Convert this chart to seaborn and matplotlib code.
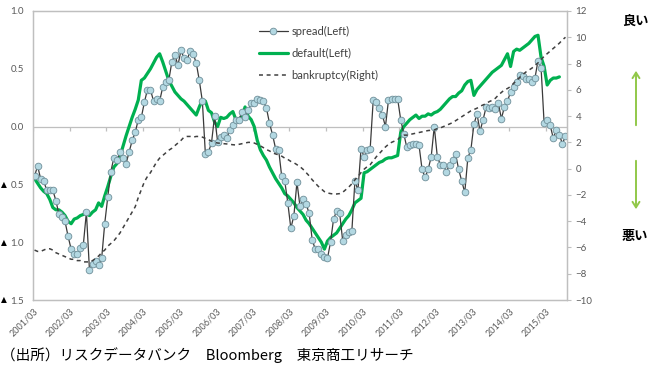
import numpy as np
import pandas as pd
import matplotlib
matplotlib.use("Agg")
import matplotlib.pyplot as plt
import seaborn as sns
from matplotlib.transforms import blended_transform_factory
from matplotlib.patches import FancyArrowPatch

# ---------------- data ----------------
months = [p.strftime("%Y/%m") for p in pd.period_range("2001-03", "2015-09", freq="M")]

spread = [
    -0.43, -0.34, -0.45, -0.47, -0.55, -0.55, -0.55, -0.64, -0.76, -0.78,
    -0.82, -0.95, -1.06, -1.10, -1.10, -1.05, -1.02, -0.74, -1.24, -1.19,
    -1.16, -1.20, -1.14, -0.84, -0.61, -0.39, -0.27, -0.29, -0.22, -0.27,
    -0.32, -0.22, -0.12, -0.05, 0.06, 0.08, 0.21, 0.32, 0.32, 0.22,
    0.24, 0.22, 0.34, 0.39, 0.40, 0.56, 0.62, 0.53, 0.66, 0.59,
    0.58, 0.65, 0.63, 0.55, 0.40, 0.22, -0.24, -0.22, -0.14, 0.09,
    -0.13, -0.09, -0.07, -0.10, -0.03, 0.01, 0.06, 0.06, 0.13, 0.08,
    0.14, 0.20, 0.20, 0.24, 0.23, 0.22, 0.16, 0.03, -0.07, -0.19,
    -0.20, -0.43, -0.47, -0.66, -0.88, -0.77, -0.48, -0.69, -0.63, -0.67,
    -0.75, -0.98, -1.06, -1.06, -1.10, -1.13, -1.14, -1.00, -0.80, -0.73,
    -0.75, -0.99, -0.94, -0.91, -0.90, -0.47, -0.55, -0.19, -0.26, -0.20,
    -0.19, 0.23, 0.21, 0.16, 0.10, 0.00, 0.23, 0.24, 0.24, 0.24,
    0.06, -0.06, -0.18, -0.16, -0.15, -0.15, -0.16, -0.37, -0.44, -0.37,
    -0.26, 0.00, -0.26, -0.33, -0.33, -0.39, -0.33, -0.29, -0.24, -0.37,
    -0.47, -0.57, -0.27, -0.20, 0.02, 0.11, -0.04, 0.06, 0.17, 0.16,
    0.17, 0.15, 0.20, 0.07, 0.17, 0.22, 0.30, 0.34, 0.39, 0.45,
    0.44, 0.41, 0.41, 0.39, 0.42, 0.57, 0.51, 0.03, 0.06, 0.01,
    -0.10, -0.03, -0.07, -0.15, -0.08,
]

default = [
    -0.45, -0.49, -0.53, -0.56, -0.58, -0.63, -0.70, -0.72, -0.72, -0.74,
    -0.77, -0.82, -0.84, -0.80, -0.79, -0.77, -0.76, -0.75, -0.77, -0.74,
    -0.72, -0.66, -0.69, -0.60, -0.52, -0.43, -0.35, -0.32, -0.26, -0.17,
    -0.08, 0.00, 0.08, 0.15, 0.23, 0.40, 0.42, 0.46, 0.50, 0.55,
    0.60, 0.63, 0.56, 0.48, 0.40, 0.35, 0.30, 0.27, 0.24, 0.22,
    0.19, 0.16, 0.13, 0.10, 0.17, 0.23, 0.22, 0.14, 0.12, 0.04,
    0.00, 0.08, 0.07, 0.08, 0.11, 0.13, 0.06, 0.06, 0.09, 0.17,
    0.09, 0.06, 0.00, -0.12, -0.20, -0.25, -0.29, -0.35, -0.40, -0.45,
    -0.49, -0.53, -0.58, -0.60, -0.63, -0.66, -0.70, -0.73, -0.76, -0.81,
    -0.84, -0.88, -0.92, -0.96, -1.00, -1.06, -0.99, -0.96, -0.94, -0.92,
    -0.88, -0.84, -0.80, -0.77, -0.72, -0.66, -0.64, -0.62, -0.40, -0.39,
    -0.37, -0.35, -0.33, -0.31, -0.30, -0.28, -0.27, -0.27, -0.26, -0.25,
    -0.05, 0.00, 0.03, 0.06, 0.08, 0.10, 0.07, 0.09, 0.09, 0.11,
    0.10, 0.12, 0.13, 0.15, 0.18, 0.21, 0.24, 0.26, 0.26, 0.29,
    0.31, 0.36, 0.39, 0.40, 0.27, 0.32, 0.35, 0.38, 0.41, 0.44,
    0.47, 0.49, 0.51, 0.53, 0.58, 0.63, 0.52, 0.65, 0.67, 0.66,
    0.68, 0.70, 0.72, 0.75, 0.78, 0.79, 0.60, 0.52, 0.36, 0.40,
    0.42, 0.42, 0.43, np.nan, np.nan,
]

bankruptcy = [
    -6.2, -6.3, -6.3, -6.2, -6.1, -6.1, -6.2, -6.4, -6.5, -6.6,
    -6.7, -6.8, -6.9, -6.9, -7.0, -7.0, -7.1, -7.1, -7.1, -7.0,
    -6.85, -6.65, -6.4, -6.2, -5.9, -5.7, -5.5, -5.2, -4.9, -4.5,
    -4.1, -3.7, -3.3, -2.9, -2.2, -1.6, -1.0, -0.6, -0.3, 0.1,
    0.5, 0.8, 1.0, 1.2, 1.4, 1.55, 1.75, 1.95, 2.15, 2.4,
    2.45, 2.45, 2.4, 2.45, 2.45, 2.4, 2.3, 2.2, 2.1, 2.0,
    1.95, 1.93, 1.9, 1.88, 1.85, 1.82, 1.8, 1.85, 1.9, 1.95,
    2.0, 2.0, 1.95, 1.85, 1.73, 1.6, 1.45, 1.35, 1.2, 1.12,
    1.05, 0.95, 0.8, 0.7, 0.55, 0.45, 0.3, 0.15, -0.05, -0.3,
    -0.55, -0.85, -1.1, -1.35, -1.55, -1.75, -1.85, -1.9, -1.93, -1.93,
    -1.9, -1.8, -1.6, -1.4, -1.15, -0.85, -0.6, -0.3, -0.05, 0.15,
    0.3, 0.6, 0.9, 1.15, 1.4, 1.65, 1.85, 2.0, 2.1, 2.2,
    2.45, 2.55, 2.55, 2.6, 2.65, 2.7, 2.75, 2.8, 2.85, 2.9,
    2.92, 2.95, 3.05, 3.1, 3.2, 3.3, 3.4, 3.5, 3.65, 3.8,
    3.95, 4.1, 4.25, 4.4, 4.5, 4.6, 4.75, 4.85, 4.95, 5.1,
    5.2, 5.35, 5.6, 5.8, 6.0, 6.1, 6.25, 6.5, 6.7, 6.95,
    7.15, 7.35, 7.5, 7.65, 7.85, 8.05, 8.3, 8.55, 8.75, 8.95,
    9.15, 9.35, 9.55, 9.8, 10.0,
]

left_ticks = [1.0, 0.5, 0.0, -0.5, -1.0, -1.5]
left_tick_labels = ["1.0", "0.5", "0.0", "0.5", "1.0", "1.5"]
right_ticks = [-10, -8, -6, -4, -2, 0, 2, 4, 6, 8, 10, 12]
series_labels = ["spread(Left)", "default(Left)", "bankruptcy(Right)"]
source_text = "（出所）リスクデータバンク　Bloomberg　東京商工リサーチ"
good_text = "良い"
bad_text = "悪い"

df = pd.DataFrame({
    "idx": np.arange(len(months)),
    "month": months,
    "spread": spread,
    "default": default,
    "bankruptcy": bankruptcy,
})

# ---------------- style ----------------
sns.set_theme(style="white")
plt.rcParams["font.family"] = ["Lato", "Noto Sans CJK JP", "DejaVu Sans"]

W, H = 651, 365
fig = plt.figure(figsize=(W / 100, H / 100), dpi=100)
ax = fig.add_axes([33 / W, 1 - 300 / H, 534 / W, 289 / H])
ax2 = ax.twinx()

GRAY = "#BFBFBF"
TXT = "#595959"

sns.lineplot(data=df, x="idx", y="default", ax=ax, color="#00B050", lw=2.3,
             label=series_labels[1], zorder=2)
sns.lineplot(data=df, x="idx", y="spread", ax=ax, color="#3A3A3A", lw=0.9,
             marker="o", markersize=4.8, markerfacecolor="#B3D8E2",
             markeredgecolor="#6F8F99", markeredgewidth=0.6,
             label=series_labels[0], zorder=3)
sns.lineplot(data=df, x="idx", y="bankruptcy", ax=ax2, color="#404040", lw=1.1,
             linestyle=(0, (2.6, 2.4)), label=series_labels[2])

n = len(months)
ax.set_xlim(-0.5, n - 0.5)
ax.set_ylim(-1.5, 1.0)
ax2.set_ylim(-10, 12)

# zero line acting as category axis, with tick marks
ax.axhline(0, color=GRAY, lw=0.9, zorder=1)
tick_pos = np.arange(0, n, 12) - 0.5
trans = blended_transform_factory(ax.transData, ax.transAxes)
ax.vlines(tick_pos, 0.6 - 4 / 289, 0.6, transform=trans, color=GRAY, lw=0.9, zorder=1)

ax.set_xticks(tick_pos)
ax.set_xticklabels(months[::12], rotation=45, ha="right", rotation_mode="anchor",
                   fontsize=6.5, color=TXT)
ax.tick_params(axis="x", length=0, pad=5)
ax.set_xlabel("")
ax.set_ylabel("")
ax2.set_ylabel("")

ax.set_yticks(left_ticks)
ax.set_yticklabels(left_tick_labels)
ax.tick_params(axis="y", length=0, pad=6.5, labelsize=7, labelcolor=TXT)
ax2.set_yticks(right_ticks)
ax2.tick_params(axis="y", length=3, width=0.8, direction="out", color=GRAY,
                pad=3, labelsize=7, labelcolor=TXT)

# ▲ marks for negative ticks
ytrans = blended_transform_factory(fig.transFigure, ax.transData)
for v in left_ticks:
    if v < 0:
        fig.text(0.5 / W, v, "▲", transform=ytrans, fontsize=5.5, color="black",
                 va="center", ha="left", family=["DejaVu Sans"])

for a in (ax, ax2):
    for s in a.spines.values():
        s.set_color(GRAY)
        s.set_linewidth(0.9)
    a.grid(False)

# legend
if ax.get_legend():
    ax.get_legend().remove()
if ax2.get_legend():
    ax2.get_legend().remove()
h1, l1 = ax.get_legend_handles_labels()
h2, l2 = ax2.get_legend_handles_labels()
order = {lab: k for k, lab in enumerate(series_labels)}
pairs = sorted(zip(h1 + h2, l1 + l2), key=lambda p: order[p[1]])
leg = ax2.legend([p[0] for p in pairs], [p[1] for p in pairs],
                 loc="upper left", bbox_to_anchor=(0.415, 0.965), frameon=False,
                 fontsize=8, handlelength=2.6, labelspacing=1.0, handletextpad=0.3,
                 borderaxespad=0)
for t in leg.get_texts():
    t.set_color("#404040")

# right-hand annotations
fig.text(622 / W, 1 - 21 / H, good_text, fontsize=9.5, fontweight="bold",
         family=["Noto Sans CJK JP"], va="center", ha="left", color="black")
fig.text(622 / W, 1 - 236 / H, bad_text, fontsize=9.5, fontweight="bold",
         family=["Noto Sans CJK JP"], va="center", ha="left", color="black")
for y0, y1 in ((128, 68), (158, 212)):
    arr = FancyArrowPatch((636 / W, 1 - y0 / H), (636 / W, 1 - y1 / H),
                          transform=fig.transFigure, arrowstyle="->,head_length=4,head_width=2.5",
                          color="#92C84A", lw=1.4, mutation_scale=1)
    fig.add_artist(arr)

fig.text(1 / W, 1 - 355 / H, source_text, fontsize=10.5, family=["Noto Sans CJK JP"],
         va="center", ha="left", color="black")

fig.savefig("out.png", dpi=100, facecolor="white")
